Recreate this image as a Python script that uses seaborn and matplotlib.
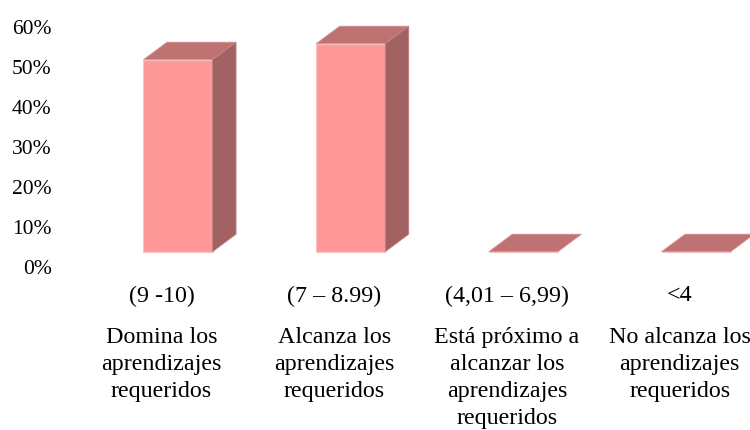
import matplotlib
matplotlib.use("Agg")
import matplotlib.pyplot as plt
import matplotlib.transforms as mtransforms
from matplotlib.patches import Polygon
from matplotlib.ticker import PercentFormatter
import seaborn as sns
import pandas as pd

# ---- data ----
ranges = ["(9 -10)", "(7 – 8.99)", "(4,01 – 6,99)", "<4"]
descriptions = [
    "Domina los\naprendizajes\nrequeridos",
    "Alcanza los\naprendizajes\nrequeridos",
    "Está próximo a\nalcanzar los\naprendizajes\nrequeridos",
    "No alcanza los\naprendizajes\nrequeridos",
]
values = [0.48, 0.52, 0.0, 0.0]
y_ticks = [0, 0.1, 0.2, 0.3, 0.4, 0.5, 0.6]

FRONT = "#FF9999"
TOP = "#C07272"
SIDE = "#A26262"

sns.set_theme(style="white")
plt.rcParams["font.family"] = ["Liberation Serif", "DejaVu Serif"]
plt.rcParams["text.color"] = "black"
plt.rcParams["xtick.color"] = "black"
plt.rcParams["ytick.color"] = "black"

W, H = 750, 430
fig = plt.figure(figsize=(W / 100, H / 100), dpi=100)
# axes placement in pixels
left_px, right_px = 60, 750
bottom_px, top_px = 430 - 266.7, 430 - 26.7
ax = fig.add_axes([left_px / W, bottom_px / H, (right_px - left_px) / W, (top_px - bottom_px) / H])

df = pd.DataFrame({"cat": ranges, "val": values})
sns.barplot(data=df, x="cat", y="val", color=FRONT, width=0.4, saturation=1,
            ax=ax, edgecolor="#F7C4C4", linewidth=0.8)

# x limits so that first category sits at ~161 px with ~172.7 px spacing
spacing = 172.7
x0_px = 161.5
ax.set_xlim(-(x0_px - left_px) / spacing, (right_px - x0_px) / spacing)
ax.set_ylim(0, 0.6)
ax.set_yticks(y_ticks)
ax.yaxis.set_major_formatter(PercentFormatter(1.0, decimals=0))
ax.set_xlabel("")
ax.set_ylabel("")
for s in ax.spines.values():
    s.set_visible(False)
ax.tick_params(axis="y", length=0, pad=6, labelsize=15.5, labelcolor="black")
ax.tick_params(axis="x", length=0, pad=13.5, labelsize=17.3, labelcolor="black")

# 3D effect: shift front faces back into depth, add top and side faces
shift = mtransforms.offset_copy(ax.transData, fig=fig, x=16.5, y=15, units="dots")
p0 = ax.transData.transform((0, 0))
p1 = ax.transData.inverted().transform(p0 + (23.5, 17.5))
ddx, ddy = p1[0] - 0, p1[1] - 0

for patch in ax.patches:
    patch.set_transform(shift)
    patch.set_clip_on(False)
    x = patch.get_x()
    w = patch.get_width()
    h = patch.get_height()
    top = Polygon([(x, h), (x + w, h), (x + w + ddx, h + ddy), (x + ddx, h + ddy)],
                  closed=True, facecolor=TOP, edgecolor="#D49494", linewidth=0.6,
                  transform=shift, clip_on=False)
    ax.add_patch(top)
    if h > 0:
        side = Polygon([(x + w, 0), (x + w + ddx, ddy), (x + w + ddx, h + ddy), (x + w, h)],
                       closed=True, facecolor=SIDE, edgecolor="#C08484", linewidth=0.6,
                       transform=shift, clip_on=False)
        ax.add_patch(side)

# descriptive labels under the range labels
blend = mtransforms.blended_transform_factory(ax.transData, ax.transAxes)
for i, d in enumerate(descriptions):
    ax.text(i, -60 / (top_px - bottom_px), d, transform=blend, ha="center", va="top",
            fontsize=17.3, linespacing=1.38, multialignment="center", color="black")

fig.savefig("out.png", dpi=100)
